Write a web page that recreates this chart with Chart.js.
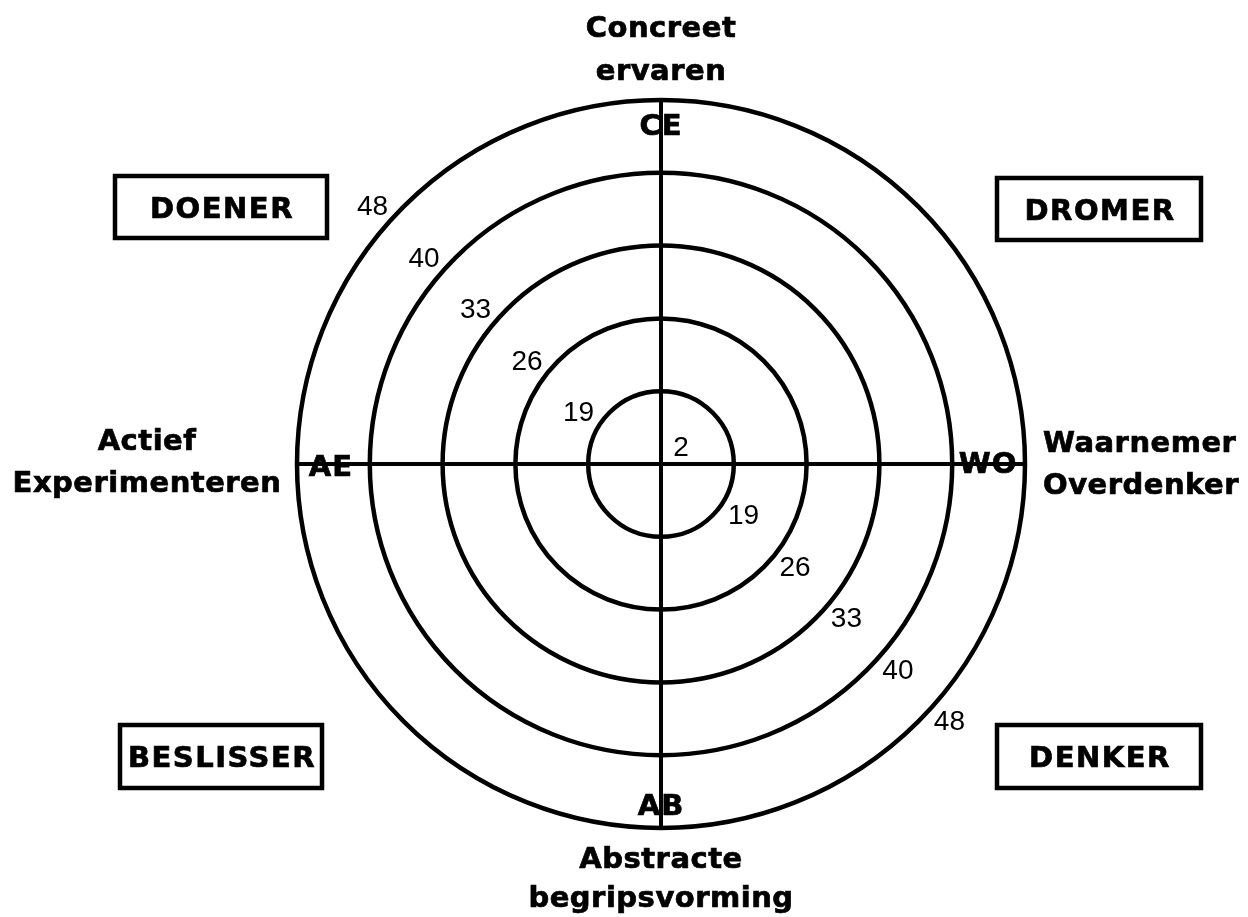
<!DOCTYPE html>
<html>
<head>
<meta charset="utf-8">
<script src="https://cdn.jsdelivr.net/npm/chart.js@4.4.1/dist/chart.umd.min.js"></script>
<style>
  html, body { margin: 0; padding: 0; background: #fff; }
  #wrap { width: 1248px; height: 917px; position: relative; }
</style>
</head>
<body>
<div id="wrap"><canvas id="kolbChart"></canvas></div>
<script>
// Axis codes (clockwise from the top) and their full names
const axisCodes = ['CE', 'WO', 'AB', 'AE'];
const axisNames = [
  ['Concreet', 'ervaren'],
  ['Waarnemer', 'Overdenker'],
  ['Abstracte', 'begripsvorming'],
  ['Actief', 'Experimenteren']
];
// Ring index 0..5 and the score printed on each ring
const ringSteps = [0, 1, 2, 3, 4, 5];
const ringLabels = ['2', '19', '26', '33', '40', '48'];
// Learning styles in the four quadrants
const styleNames = ['DOENER', 'DROMER', 'BESLISSER', 'DENKER'];

const boldFont = 'bold 29px "DejaVu Sans", Verdana, sans-serif';
const plainFont = '28px "Liberation Sans", Arial, sans-serif';

// heavy text: fill plus a thin outline, like the original
function heavyText(ctx, txt, x, y) {
  ctx.fillText(txt, x, y);
  ctx.strokeText(txt, x, y);
}

// draws the texts and the boxes on top of the radial grid
const kolbLabels = {
  id: 'kolbLabels',
  afterDraw(chart) {
    const ctx = chart.ctx;
    const s = chart.scales.r;
    const cx = s.xCenter, cy = s.yCenter, R = s.drawingArea;
    ctx.save();
    ctx.fillStyle = '#000';
    ctx.strokeStyle = '#000';

    // ring scores on the two diagonals
    ctx.font = plainFont;
    ctx.textAlign = 'center';
    ctx.textBaseline = 'middle';
    ringSteps.forEach((v, i) => {
      const r = s.getDistanceFromCenterForValue(v);
      if (i === 0) {
        ctx.fillText(ringLabels[i], cx + 20, cy - 16);
        return;
      }
      const d = r * Math.SQRT1_2;
      ctx.fillText(ringLabels[i], cx - d - 31, cy - d + 1);
      ctx.fillText(ringLabels[i], cx + d + 31, cy + d + 1);
    });

    // axis codes inside the outer ring
    ctx.font = boldFont;
    ctx.lineWidth = 0.7;
    ctx.letterSpacing = '1px';
    ctx.textBaseline = 'alphabetic';
    heavyText(ctx, axisCodes[0], cx, cy - R + 35);
    heavyText(ctx, axisCodes[1], cx + R - 37, cy + 9);
    heavyText(ctx, axisCodes[2], cx, cy + R - 13);
    heavyText(ctx, axisCodes[3], cx - R + 34, cy + 12);

    // axis names outside
    ctx.letterSpacing = '0.5px';
    heavyText(ctx, axisNames[0][0], cx, cy - R - 63);
    heavyText(ctx, axisNames[0][1], cx, cy - R - 20);
    heavyText(ctx, axisNames[2][0], cx, cy + R + 40);
    heavyText(ctx, axisNames[2][1], cx, cy + R + 79);
    heavyText(ctx, axisNames[3][0], cx - R - 150, cy - 14);
    heavyText(ctx, axisNames[3][1], cx - R - 150, cy + 28);
    ctx.textAlign = 'left';
    heavyText(ctx, axisNames[1][0], cx + R + 18, cy - 12);
    heavyText(ctx, axisNames[1][1], cx + R + 18, cy + 30);

    // quadrant boxes
    const boxes = [
      [115, 176, 212, 62],
      [997, 178, 204, 62],
      [120, 725, 202, 63],
      [997, 725, 204, 63]
    ];
    ctx.textAlign = 'center';
    ctx.letterSpacing = '1.5px';
    styleNames.forEach((name, i) => {
      const [x, y, w, h] = boxes[i];
      ctx.lineWidth = 4.5;
      ctx.strokeRect(x, y, w, h);
      ctx.lineWidth = 0.7;
      heavyText(ctx, name, x + w / 2 + 1, y + 42);
    });
    ctx.restore();
  }
};

new Chart(document.getElementById('kolbChart'), {
  type: 'radar',
  data: {
    labels: axisCodes,
    datasets: [{
      label: 'Kolb',
      data: [],
      borderWidth: 0,
      pointRadius: 0
    }]
  },
  options: {
    responsive: true,
    maintainAspectRatio: false,
    animation: false,
    layout: {
      padding: { left: 297, right: 223, top: 100, bottom: 88 }
    },
    plugins: {
      legend: { display: false },
      tooltip: { enabled: false }
    },
    scales: {
      r: {
        min: ringSteps[0],
        max: ringSteps[ringSteps.length - 1],
        ticks: { display: false, stepSize: 1 },
        pointLabels: { display: false },
        grid: { circular: true, color: '#000', lineWidth: 4.5 },
        angleLines: { display: true, color: '#000', lineWidth: 4 }
      }
    }
  },
  plugins: [kolbLabels]
});
</script>
</body>
</html>
